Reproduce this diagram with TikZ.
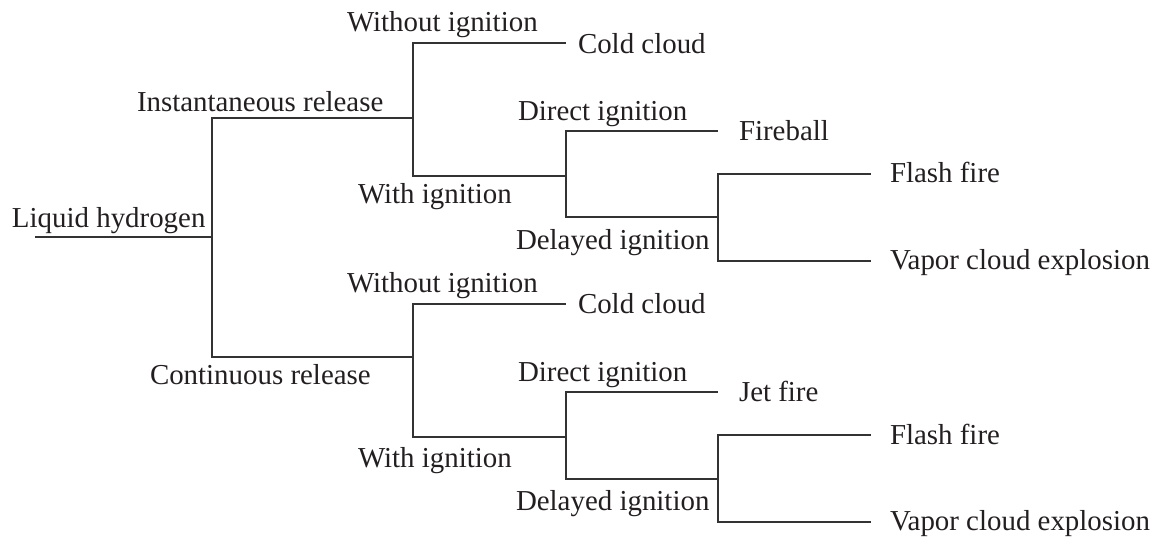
\documentclass[tikz,border=0pt]{standalone}
\usepackage{fontspec}
\setmainfont{Liberation Serif}
\definecolor{ink}{HTML}{231F20}
\definecolor{wire}{HTML}{333333}
\begin{document}
\begin{tikzpicture}[x=1pt,y=-1pt,
  branch/.style={draw=wire,line width=2pt,line cap=rect},
  lbl/.style={inner sep=0pt,outer sep=0pt,text=ink,anchor=base west,
    font=\fontsize{28.9}{34}\selectfont}]
\useasboundingbox (0,0) rectangle (1162,537);

% junction points of the event tree
\coordinate (root) at (36,237.5);
\coordinate (j0) at (212,237.5);
\coordinate (inst) at (413,118);
\coordinate (cont) at (413,356.5);
% instantaneous release
\coordinate (cold1) at (565,43.5);
\coordinate (ign1) at (566,176);
\coordinate (fireball) at (717,131);
\coordinate (del1) at (718,217.5);
\coordinate (flash1) at (870,174);
\coordinate (vce1) at (870,261);
% continuous release
\coordinate (cold2) at (565,304.5);
\coordinate (ign2) at (566,437);
\coordinate (jet) at (717,391.5);
\coordinate (del2) at (718,478.5);
\coordinate (flash2) at (870,435);
\coordinate (vce2) at (870,521.5);

% branches
\draw[branch] (root) -- (j0);
\draw[branch] (j0) |- (inst);
\draw[branch] (j0) |- (cont);
\draw[branch] (inst) |- (cold1);
\draw[branch] (inst) |- (ign1);
\draw[branch] (ign1) |- (fireball);
\draw[branch] (ign1) |- (del1);
\draw[branch] (del1) |- (flash1);
\draw[branch] (del1) |- (vce1);
\draw[branch] (cont) |- (cold2);
\draw[branch] (cont) |- (ign2);
\draw[branch] (ign2) |- (jet);
\draw[branch] (ign2) |- (del2);
\draw[branch] (del2) |- (flash2);
\draw[branch] (del2) |- (vce2);

% labels
\node[lbl] (tLH) at (12,228) {Liquid hydrogen};
\node[lbl] (tIR) at (137,111.7) {Instantaneous release};
\node[lbl] (tCR) at (150,384.3) {Continuous release};

\node[lbl] (tWO1) at (347,32) {Without ignition};
\node[lbl] (tWI1) at (358,204) {With ignition};
\node[lbl] (tCC1) at (578,53.3) {Cold cloud};
\node[lbl] (tDI1) at (518,120.7) {Direct ignition};
\node[lbl] (tFB) at (739,140.7) {Fireball};
\node[lbl] (tDL1) at (516,249.3) {Delayed ignition};
\node[lbl] (tFF1) at (890,183) {Flash fire};
\node[lbl] (tVC1) at (890,270) {Vapor cloud explosion};

\node[lbl] (tWO2) at (347,292.3) {Without ignition};
\node[lbl] (tWI2) at (358,467.3) {With ignition};
\node[lbl] (tCC2) at (578,313.3) {Cold cloud};
\node[lbl] (tDI2) at (518,381.7) {Direct ignition};
\node[lbl] (tJF) at (739,401.7) {Jet fire};
\node[lbl] (tDL2) at (516,510) {Delayed ignition};
\node[lbl] (tFF2) at (890,444.3) {Flash fire};
\node[lbl] (tVC2) at (890,530) {Vapor cloud explosion};
\end{tikzpicture}
\end{document}
